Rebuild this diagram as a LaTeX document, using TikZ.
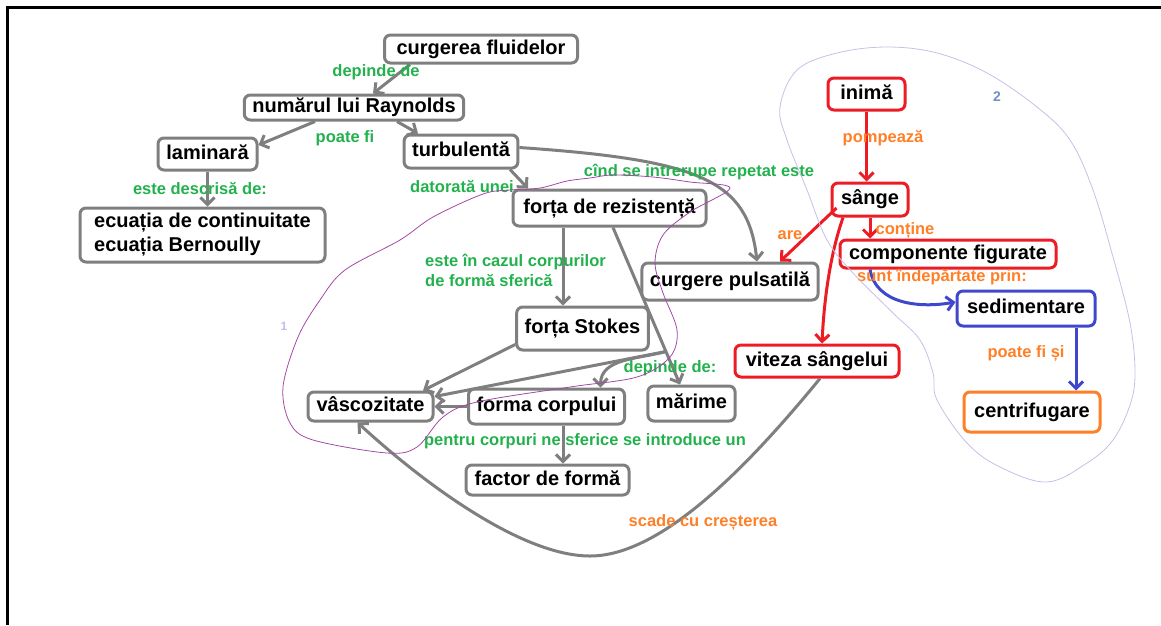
\documentclass[tikz,border=0pt]{standalone}
\usepackage{fontspec}
\setmainfont{Liberation Sans}
\usetikzlibrary{arrows.meta}
\definecolor{paintgray}{RGB}{127,127,127}
\definecolor{paintgreen}{RGB}{34,177,76}
\definecolor{paintorange}{RGB}{255,127,39}
\definecolor{paintred}{RGB}{237,28,36}
\definecolor{paintblue}{RGB}{63,72,204}
\definecolor{paintpurple}{RGB}{163,73,164}
\definecolor{paintlilac}{RGB}{200,191,231}
\definecolor{paintsteel}{RGB}{112,146,190}
\definecolor{paintpale}{RGB}{190,190,235}

\begin{document}
\begin{tikzpicture}[x=1pt, y=-1pt, >={Straight Barb[length=7pt,width=14pt]},
    basebox/.style={draw=paintgray, line width=3pt, rounded corners=6pt, inner xsep=8pt, inner ysep=3pt,
      font=\fontsize{20}{24}\selectfont\bfseries},
    box/.style={basebox, text height=14pt, text depth=4pt},
    redbox/.style={box, draw=paintred},
    bluebox/.style={box, draw=paintblue},
    orangebox/.style={box, draw=paintorange},
    rel/.style={font=\fontsize{16.5}{20}\selectfont\bfseries, text=paintgreen, inner sep=0pt},
    orel/.style={rel, text=paintorange},
    link/.style={->, draw=paintgray, line width=3pt},
    redlink/.style={link, draw=paintred},
    bluelink/.style={link, draw=paintblue}]

      \useasboundingbox (0,0) rectangle (1161,625);
      \draw[line width=3pt] (7,625) -- (7,7) -- (1161,7);

      \node[box, minimum width=193, minimum height=28] (fluid) at (481,49) {curgerea fluidelor};
      \node[box, minimum width=208, minimum height=25] (reynolds) at (354,107.5) {numărul lui Raynolds};
      \node[box, minimum width=99, minimum height=32] (laminar) at (207.5,154) {laminară};
      \node[box, minimum width=110, minimum height=33] (turbulent) at (461,151.5) {turbulentă};
      \node[basebox, minimum width=245, minimum height=54, align=left] (ecuatii) at (202.5,235)
      {ecuația de continuitate\\ecuația Bernoully};
      \node[box, minimum width=193, minimum height=36] (rezist) at (609.5,208) {forța de rezistență};
      \node[box, minimum width=170, minimum height=37] (pulsatil) at (730,281.5) {curgere pulsatilă};
      \node[box, minimum width=125, minimum height=43] (stokes) at (582.5,328.5) {forța Stokes};
      \node[box, minimum width=125, minimum height=29] (vasco) at (370.5,406.5) {vâscozitate};
      \node[box, minimum width=153, minimum height=35] (forma) at (546.5,406.5) {forma corpului};
      \node[box, minimum width=83, minimum height=35] (marime) at (691.5,403.5) {mărime};
      \node[box, minimum width=163, minimum height=30] (factor) at (547.5,480) {factor de formă};

      \node[redbox, minimum width=77, minimum height=32] (inima) at (866.5,94) {inimă};
      \node[redbox, minimum width=76, minimum height=33] (sange) at (870,199.5) {sânge};
      \node[redbox, minimum width=216, minimum height=28] (comp) at (948,254) {componente figurate};
      \node[redbox, minimum width=164, minimum height=32] (viteza) at (817,361) {viteza sângelui};
      \node[bluebox, minimum width=138, minimum height=35] (sediment) at (1026,308.5) {sedimentare};
      \node[orangebox, minimum width=136, minimum height=40] (centrif) at (1032,412) {centrifugare};

      \draw[link] ([xshift=-71pt]fluid.south) -- ([xshift=19pt]reynolds.north);
      \draw[link] ([xshift=-39pt]reynolds.south) -- ([yshift=9pt]laminar.east);
      \draw[link] ([xshift=43pt]reynolds.south) -- ([xshift=-43pt]turbulent.north);
      \draw[link] (laminar.south) -- (laminar.south |- ecuatii.north);
      \draw[link] ([xshift=49pt]turbulent.south) -- ([xshift=-81.5pt]rezist.north);
      \draw[link] ([yshift=4pt]turbulent.east) .. controls (700,160) and (748,180) .. ([xshift=27pt]pulsatil.north);
      \draw[link] ([xshift=-46.5pt]rezist.south) -- ([xshift=-46.5pt]rezist.south |- stokes.north);
      \draw[link] ([xshift=3.5pt]rezist.south) -- coordinate[pos=0.79] (split) ([xshift=-11.5pt]marime.north);
      \draw[link] (split) -- ([yshift=10pt]vasco.east);
      \draw[link] (split) to[out=195, in=90] ([xshift=54pt]forma.north);
      \draw[link] (forma.west) -- (vasco.east);
      \draw[link] ([yshift=7pt]stokes.south west) -- ([xshift=52.5pt]vasco.north);
      \draw[link] ([xshift=16.5pt]forma.south) -- ([xshift=16.5pt]forma.south |- factor.north);
      \draw[link] ([xshift=3pt]viteza.south) .. controls (745,470) and (660,556) .. (590,556)
      .. controls (520,556) and (420,480) .. ([xshift=-13pt]vasco.south);

      \draw[redlink] (inima.south) -- (inima.south |- sange.north);
      \draw[redlink] ([xshift=6pt, yshift=-8.5pt]sange.west) -- ([xshift=50pt]pulsatil.north);
      \draw[redlink] (sange.south) -- (sange.south |- comp.north);
      \draw[redlink] ([xshift=-27pt]sange.south) .. controls (830,255) and (824,300) .. ([xshift=5pt]viteza.north);
      \draw[bluelink] ([xshift=-78pt]comp.south) to[out=-80, in=190] ([yshift=6.5pt]sediment.west);
      \draw[bluelink] ([xshift=50pt]sediment.south) -- ([xshift=50pt]sediment.south |- centrif.north);

      \node[rel] (l1) at (376,72) {depinde de};
      \node[rel] (l2) at (345,138) {poate fi};
      \node[rel] (l3) at (200,189) {este descrisă de:};
      \node[rel] (l4) at (462,187) {datorată unei};
      \node[rel] (l5) at (699,172) {cînd se intrerupe repetat este};
      \node[rel, anchor=west, align=left] (l6) at (425,270) {este în cazul corpurilor\\de formă sferică};
      \node[rel] (l7) at (670,368) {depinde de:};
      \node[rel] (l8) at (585,441) {pentru corpuri ne sferice se introduce un};
      \node[orel] (l9) at (703,522) {scade cu creșterea};
      \node[orel] (l10) at (883,138) {pompează};
      \node[orel] (l11) at (790,235) {are};
      \node[orel] (l12) at (905,230) {conține};
      \node[orel] (l13) at (942,277) {sunt îndepărtate prin:};
      \node[orel] (l14) at (1026,353) {poate fi și};

      \draw[paintpurple, line width=0.8pt] plot[smooth cycle, tension=0.55] coordinates {
        (730,188) (690,182) (653,177) (613,175) (590,178) (567,181) (540,188) (510,190) (483,194)
        (433,217) (400,240) (345,270) (320,300) (298,337) (283,387) (290,423) (313,440) (387,453)
        (417,447) (443,417) (477,402) (570,387) (637,377) (670,357) (677,330) (663,293) (655,263)
        (663,235) (690,212)};
      \node[text=paintpale, font=\fontsize{12}{14}\selectfont\bfseries] (one) at (284,326) {1};

      \draw[paintlilac, line width=0.8pt] plot[smooth cycle, tension=0.6] coordinates {
        (780,107) (797,70) (837,53) (887,47) (937,53) (987,73) (1037,107) (1070,140) (1093,190)
        (1113,257) (1130,323) (1135,373) (1130,405) (1113,440) (1087,463) (1047,482) (1000,467)
        (967,443) (937,400) (933,373) (920,340) (893,313) (853,273) (827,240) (807,190) (787,140)};
      \node[text=paintsteel, font=\fontsize{14}{16}\selectfont\bfseries] (two) at (997,97) {2};
    \end{tikzpicture}
\end{document}
